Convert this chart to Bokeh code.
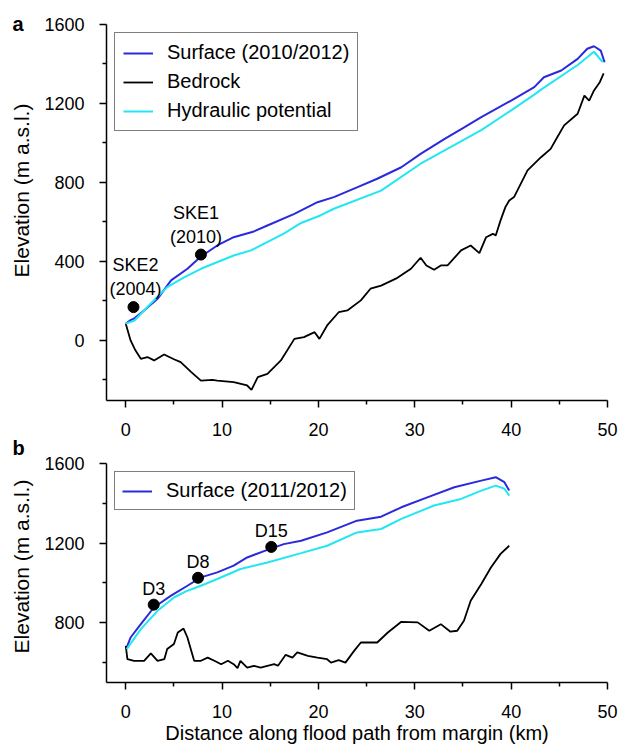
import math
from bokeh.plotting import figure
from bokeh.layouts import column, row
from bokeh.models import FixedTicker, Label, Range1d
from bokeh.core.properties import value
from bokeh.embed import file_html
from bokeh.resources import INLINE

# ---------------- Panel a data ----------------
surf_a_x = [0.0, 0.4, 0.9, 1.9, 3.3, 4.7, 6.4, 7.8, 9.5, 11.2, 13.3, 14.7, 17.5, 19.9, 21.6, 24.0,
            26.1, 28.6, 30.6, 33.1, 35.0, 36.9, 40.0, 42.4, 43.4, 45.2, 46.9, 47.9, 48.6, 49.3, 49.7]
surf_a_y = [85, 100, 112, 152, 211, 304, 363, 425, 481, 523, 552, 582, 641, 700, 726, 775,
            819, 877, 945, 1021, 1075, 1131, 1215, 1283, 1333, 1367, 1426, 1477, 1490, 1468, 1409]

hyd_a_x = [0.0, 0.9, 2.6, 4.3, 6.05, 7.8, 11.2, 13.0, 16.4, 18.2, 20.2, 21.6, 26.5, 30.6, 36.9,
           40.0, 42.4, 43.1, 46.9, 48.6, 49.5]
hyd_a_y = [85, 101, 187, 270, 320, 363, 430, 456, 541, 595, 633, 667, 759, 895, 1065,
           1165, 1245, 1270, 1395, 1462, 1409]

bed_a_x = [0.0, 0.5, 1.0, 1.56, 2.25, 2.94, 3.98, 5.0, 5.7, 6.8, 7.8, 9.0, 9.5, 11.2, 12.6, 13.05,
           13.7, 14.7, 16.1, 17.5, 18.5, 19.6, 20.1, 20.9, 22.1, 23.0, 24.4, 25.4, 26.5, 28.2, 29.6,
           30.6, 31.2, 32.0, 32.7, 33.4, 34.8, 35.8, 36.7, 37.4, 38.1, 38.4, 38.9, 39.4, 39.8, 40.3,
           41.7, 43.1, 44.1, 44.8, 45.5, 46.9, 47.6, 48.1, 48.6, 49.2, 49.6]
bed_a_y = [85, 0, -50, -93, -84, -101, -71, -95, -110, -160, -203, -200, -203, -211, -228, -250,
           -186, -169, -101, 8, 17, 42, 8, 76, 143, 152, 203, 262, 278, 317, 363,
           419, 380, 358, 380, 380, 456, 481, 442, 523, 540, 532, 608, 675, 709, 726,
           861, 928, 970, 1030, 1089, 1148, 1240, 1215, 1266, 1308, 1353]

site_a_x = [7.8, 0.8]
site_a_y = [435, 169]
site_a_name = ["SKE1\n(2010)", "SKE2\n(2004)"]

# ---------------- Panel b data ----------------
surf_b_x = [0.1, 0.5, 1.56, 2.94, 4.7, 6.4, 7.8, 9.5, 11.2, 12.6, 14.7, 16.4, 18.2, 20.9, 24.0,
            26.5, 28.6, 31.3, 34.1, 36.9, 38.4, 39.3, 39.8]
surf_b_y = [676, 726, 793, 878, 936, 986, 1028, 1053, 1087, 1128, 1166, 1195, 1212, 1254, 1313,
            1333, 1380, 1430, 1481, 1514, 1531, 1506, 1464]

hyd_b_x = [0.1, 1.56, 3.3, 5.0, 6.4, 7.8, 9.5, 11.9, 14.7, 18.2, 20.9, 24.0, 26.5, 28.6, 32.0,
           34.8, 36.9, 38.4, 39.3, 39.8]
hyd_b_y = [668, 768, 860, 927, 961, 986, 1020, 1070, 1103, 1150, 1187, 1254, 1271, 1322, 1389,
           1422, 1464, 1489, 1473, 1439]

bed_b_x = [0.0, 0.17, 0.87, 1.9, 2.6, 3.3, 4.0, 4.3, 5.0, 5.4, 6.0, 6.4, 7.1, 7.8, 8.5, 9.2, 9.9,
           10.6, 11.2, 11.6, 11.9, 12.6, 13.3, 14.0, 14.7, 15.4, 15.8, 16.6, 17.3, 17.8, 18.9,
           19.9, 20.9, 21.3, 22.1, 22.8, 23.7, 24.4, 26.1, 27.2, 28.6, 30.3, 31.5, 32.7, 33.7,
           34.4, 35.1, 35.8, 36.9, 37.9, 38.9, 39.8]
bed_b_y = [684, 617, 609, 609, 646, 609, 617, 668, 693, 751, 771, 726, 609, 609, 625, 609, 592,
           609, 592, 572, 609, 575, 584, 575, 584, 592, 584, 639, 625, 651, 634,
           625, 617, 600, 612, 600, 659, 701, 701, 751, 805, 802, 760, 793, 755,
           760, 810, 911, 995, 1078, 1146, 1187]

site_b_x = [2.9, 7.5, 15.1]
site_b_y = [891, 1026, 1181]
site_b_name = ["D3", "D8", "D15"]

x_ticks = [0, 10, 20, 30, 40, 50]
x_minor = [5, 15, 25, 35, 45]
ya_ticks = [0, 400, 800, 1200, 1600]
ya_minor = [-200, 200, 600, 1000, 1400]
yb_ticks = [800, 1200, 1600]
yb_minor = [600, 1000, 1400]

Y_TITLE = "Elevation (m a.s.l.)"
X_TITLE = "Distance along flood path from margin (km)"

BLUE = "#2a2adc"
CYAN = "#22e6f2"
FONT = "Liberation Sans"
SIDE_W = 40
HA = 442
HB = 306
H_ALL = HA + HB


def style_axes(p, yt, ym):
    p.xaxis.ticker = FixedTicker(ticks=x_ticks, minor_ticks=x_minor)
    p.yaxis.ticker = FixedTicker(ticks=yt, minor_ticks=ym)
    for ax in [p.xaxis[0], p.yaxis[0]]:
        ax.axis_line_color = "black"
        ax.axis_line_width = 1.5
        ax.major_tick_line_color = "black"
        ax.minor_tick_line_color = "black"
        ax.major_tick_line_width = 1.5
        ax.minor_tick_line_width = 1.5
        ax.major_tick_out = 7
        ax.major_tick_in = 0
        ax.minor_tick_out = 4
        ax.minor_tick_in = 0
        ax.major_label_text_font = FONT
        ax.major_label_text_font_size = "18px"
        ax.major_label_text_color = "black"
        ax.axis_label_text_font = FONT
        ax.axis_label_text_font_size = "20px"
        ax.axis_label_text_font_style = "normal"
        ax.axis_label_text_color = "black"
    p.xaxis.major_label_standoff = 15
    p.yaxis.major_label_standoff = 15
    p.xgrid.visible = False
    p.ygrid.visible = False
    p.outline_line_color = None


def style_legend(p, pad):
    lg = p.legend[0]
    lg.location = "top_left"
    lg.margin = 8
    lg.padding = pad
    lg.spacing = 6
    lg.border_line_color = "black"
    lg.border_line_width = 1.5
    lg.label_text_font = FONT
    lg.label_text_font_size = "20px"
    lg.label_text_color = "black"
    lg.glyph_width = 30
    lg.glyph_height = 20
    lg.label_height = 20
    lg.label_standoff = 14
    lg.background_fill_alpha = 1


# ---------------- side strip: panel letters and y-axis titles ----------------
side = figure(width=SIDE_W, height=H_ALL, output_backend="svg", toolbar_location=None,
              x_axis_location=None, y_axis_location=None,
              min_border=0, min_border_left=0, min_border_right=0,
              min_border_top=0, min_border_bottom=0,
              x_range=Range1d(0, 1), y_range=Range1d(0, 1))
side.outline_line_color = None
side.xgrid.visible = False
side.ygrid.visible = False
for letter, ly in [("a", 23), ("b", 447)]:
    side.add_layout(Label(x=12, y=H_ALL - ly, x_units="screen", y_units="screen",
                          text=letter, text_font=FONT, text_font_style="bold",
                          text_font_size="20px", text_baseline="middle", text_align="left",
                          text_color="black"))
for ty in [190, 566]:
    side.add_layout(Label(x=21, y=H_ALL - ty, x_units="screen", y_units="screen",
                          text=Y_TITLE, angle=math.pi / 2, text_font=FONT,
                          text_font_size="21px", text_baseline="middle", text_align="center",
                          text_color="black"))

# ---------------- Panel a ----------------
pa = figure(width=618 - SIDE_W, height=HA, output_backend="svg", toolbar_location=None,
            x_range=Range1d(-2, 50), y_range=Range1d(-304, 1600),
            min_border_left=106 - SIDE_W, min_border_right=11, min_border_top=24,
            min_border_bottom=HA - 24 - 376)
style_axes(pa, ya_ticks, ya_minor)
pa.line(surf_a_x, surf_a_y, line_color=BLUE, line_width=2, legend_label="Surface (2010/2012)")
pa.line(bed_a_x, bed_a_y, line_color="black", line_width=1.8, legend_label="Bedrock")
pa.line(hyd_a_x, hyd_a_y, line_color=CYAN, line_width=2, legend_label="Hydraulic potential")
pa.scatter(site_a_x, site_a_y, size=11, color="black")
pa.text(x=site_a_x[:1], y=site_a_y[:1], text=site_a_name[:1], text_align="center",
        text_baseline="bottom", y_offset=-8, x_offset=-5, text_font=value(FONT),
        text_font_size="18px", text_color="black", text_line_height=1.2)
pa.text(x=site_a_x[1:], y=site_a_y[1:], text=site_a_name[1:], text_align="center",
        text_baseline="bottom", y_offset=-8, x_offset=2, text_font=value(FONT),
        text_font_size="18px", text_color="black", text_line_height=1.2)
style_legend(pa, 8)

# ---------------- Panel b ----------------
pb = figure(width=618 - SIDE_W, height=HB, output_backend="svg", toolbar_location=None,
            x_range=Range1d(-2, 50), y_range=Range1d(500, 1600),
            min_border_left=106 - SIDE_W, min_border_right=11, min_border_top=463 - HA,
            min_border_bottom=HB - (463 - HA) - 219)
style_axes(pb, yb_ticks, yb_minor)
pb.xaxis.axis_label = X_TITLE
pb.xaxis.axis_label_standoff = 1
pb.line(surf_b_x, surf_b_y, line_color=BLUE, line_width=2, legend_label="Surface (2011/2012)")
pb.line(bed_b_x, bed_b_y, line_color="black", line_width=1.8)
pb.line(hyd_b_x, hyd_b_y, line_color=CYAN, line_width=2)
pb.scatter(site_b_x, site_b_y, size=11, color="black")
pb.text(x=site_b_x, y=site_b_y, text=site_b_name, text_align="center",
        text_baseline="bottom", y_offset=-6, text_font=value(FONT),
        text_font_size="18px", text_color="black")
style_legend(pb, 7)

layout = row(side, column(pa, pb, spacing=0), spacing=0)
open("out.html", "w").write(file_html(layout, INLINE))
